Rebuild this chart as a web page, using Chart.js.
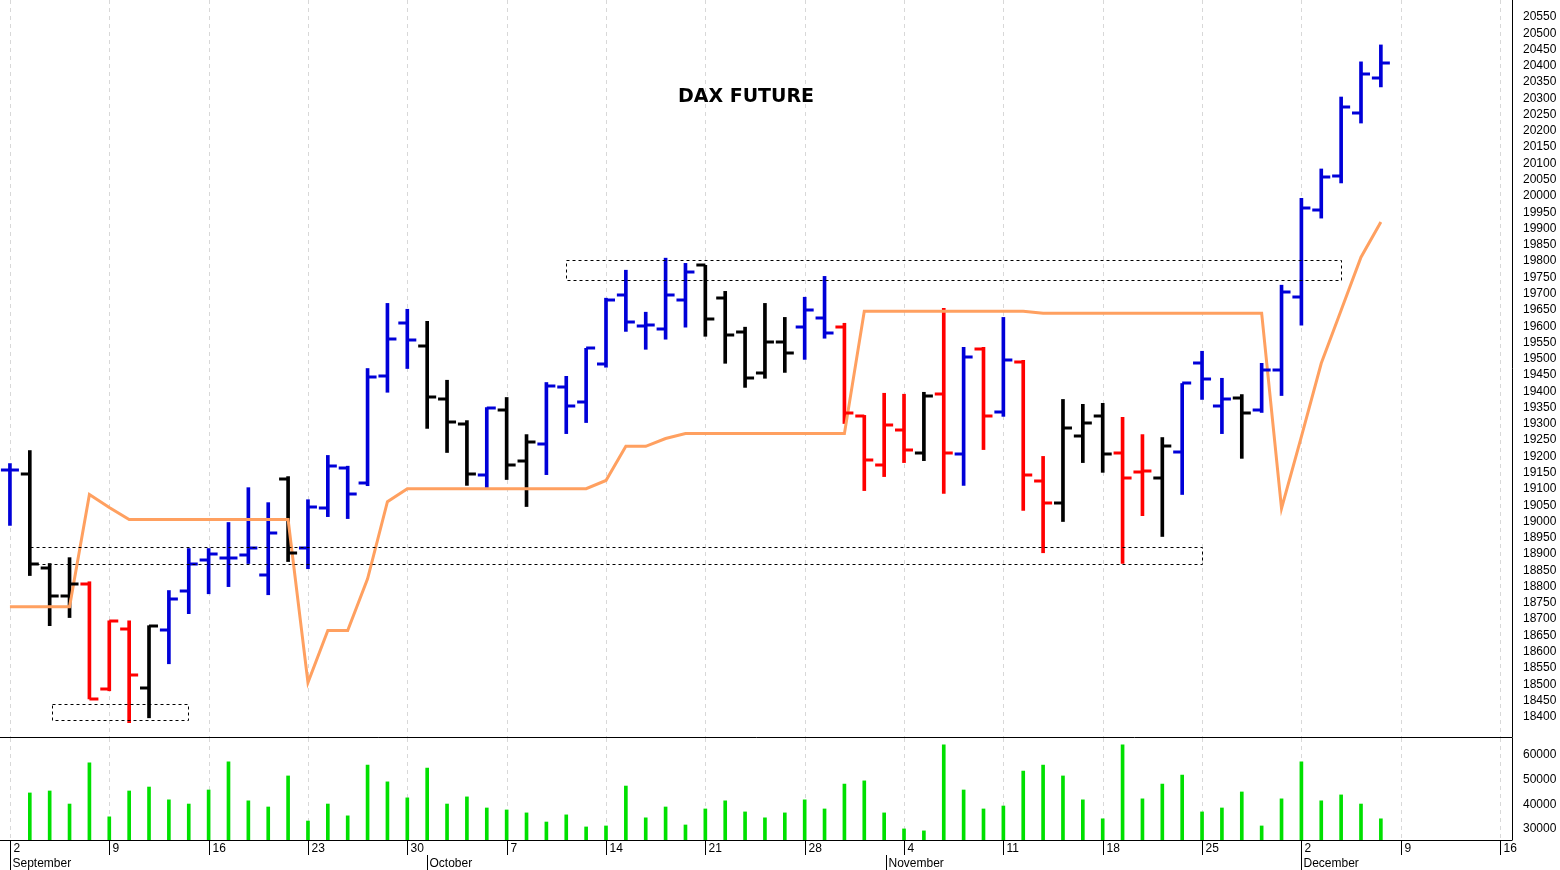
<!DOCTYPE html>
<html>
<head>
<meta charset="utf-8">
<script src="https://cdn.jsdelivr.net/npm/chart.js@4.4.1/dist/chart.umd.min.js"></script>
<style>
  body { margin: 0; background: #fff; width: 1560px; height: 870px; overflow: hidden; position: relative; }
  #wrapPrice { position: absolute; left: 0; top: 0; width: 1560px; height: 738px; }
  #wrapVol { position: absolute; left: 0; top: 738px; width: 1560px; height: 132px; }
</style>
</head>
<body>
<div id="wrapPrice"><canvas id="price"></canvas></div>
<div id="wrapVol"><canvas id="vol"></canvas></div>
<script>
// Daily bars, Sep 2 .. Dec 6 (index 0 = Sep 2)
const opens  = [19157,19147,18858,18772,18809,18486,18671,18489,18668,18788,18883,18889,18898,18837,19132,18920,19040,19163,19117,19446,
                19609,19538,19375,19301,19144,19344,19187,19237,19412,19366,19483,19695,19600,19590,19680,19787,19686,19581,19455,19550,
                19597,19624,19597,19323,19175,19280,19212,19391,19206,19529,19335,19489,19123,19058,19264,19323,19212,19151,19135,19215,
                19486,19354,19378,19344,19464,19689,19956,20061,20255,20362];
const highs  = [19178,19218,18871,18889,18815,18695,18695,18680,18788,18917,18917,18997,19104,19058,19138,19067,19203,19170,19470,19670,
                19652,19615,19434,19310,19350,19381,19267,19427,19446,19532,19686,19772,19643,19809,19793,19787,19707,19597,19670,19627,
                19689,19753,19609,19326,19394,19391,19397,19655,19535,19535,19627,19495,19200,19375,19360,19363,19320,19267,19258,19424,
                19523,19440,19390,19486,19726,19993,20083,20304,20412,20464];
const lows   = [18988,18834,18680,18705,18455,18480,18382,18397,18563,18717,18778,18800,18871,18775,18877,18855,19015,19009,19110,19397,
                19470,19286,19212,19111,19101,19129,19046,19144,19270,19304,19474,19584,19529,19560,19597,19569,19486,19412,19440,19458,
                19498,19563,19301,19095,19138,19181,19187,19086,19111,19221,19323,19034,18904,19000,19181,19151,18871,19018,18954,19083,
                19375,19270,19194,19335,19387,19603,19932,20040,20224,20335];
const closes = [19157,18871,18772,18809,18455,18695,18529,18680,18763,18871,18901,18889,18920,18966,18904,19046,19172,19086,19443,19560,
                19557,19381,19307,19147,19350,19175,19243,19415,19354,19532,19680,19612,19603,19695,19766,19621,19572,19440,19550,19517,
                19649,19578,19332,19190,19298,19221,19387,19212,19504,19323,19495,19144,19058,19286,19304,19206,19135,19154,19231,19424,
                19437,19375,19332,19464,19704,19963,20058,20273,20375,20409];
const barColors = "bkkkrrrkbbbbbbkbbbbbbkkkbkkbbbbbbbbkkkkkbbrrrrkrbrbrrkkkrrkbbbkbbbbbbb";
const trendLine = [18738,18738,18738,18738,19083,19043,19006,19006,19006,19006,19006,19006,19006,19006,19006,18505,18665,18665,18824,19061,
                   19101,19101,19101,19101,19101,19101,19101,19101,19101,19101,19126,19231,19231,19255,19270,19270,19270,19270,19270,19270,
                   19270,19270,19270,19646,19646,19646,19646,19646,19646,19646,19646,19646,19640,19640,19640,19640,19640,19640,19640,19640,
                   19640,19640,19640,19640,19040,19261,19486,19649,19812,19920];
const volumes = [null,44600,45400,40100,56800,34900,45400,47000,41800,40100,45800,57200,41400,38900,51500,33200,40100,35300,55900,49100,
                 42600,54700,40100,43000,38500,37700,36500,32800,35700,30800,31200,47400,34500,38900,31600,38100,41400,36900,34500,36500,
                 41800,38100,48200,49500,36500,30000,29200,64100,45800,38100,39300,53500,55900,51500,41800,34100,64100,42200,48200,51900,
                 36900,38500,45000,31200,42200,57200,41400,43800,40100,34100];
const dayLabels = ["2","9","16","23","30","7","14","21","28","4","11","18","25","2","9","16"];
const months = [["September",0],["October",21],["November",44.1],["December",65]];
// support / resistance boxes: [fromIndex, toIndex, lowPrice, highPrice]
const zones = [[2.1,8.95,18391,18440],[1,60,18868,18923],[28,67,19741,19803]];
const priceTicks = [];
for (let p = 18400; p <= 20550; p += 50) priceTicks.push(p);
const volTicks = [30000, 40000, 50000, 60000];

const colorMap = { b: "#0000d8", k: "#000000", r: "#ff0000" };
const idx = opens.map((_, i) => i);
const X_MIN = -0.5, X_MAX = 75.6;

function weekGrid(chart) {
  const { ctx, chartArea, scales } = chart;
  ctx.save();
  ctx.strokeStyle = "#d8d8d8";
  ctx.setLineDash([4, 4]);
  ctx.lineWidth = 1;
  for (let i = 0; i <= 75; i += 5) {
    const x = Math.round(scales.x.getPixelForValue(i)) + 0.5;
    ctx.beginPath(); ctx.moveTo(x, chartArea.top); ctx.lineTo(x, chartArea.bottom); ctx.stroke();
  }
  ctx.restore();
}

function rightAxis(min, max, ticks) {
  return {
    position: "right",
    min: min, max: max,
    afterFit(s) { s.width = 48; s.paddingTop = 0; s.paddingBottom = 0; },
    afterBuildTicks(s) { s.ticks = ticks.map(v => ({ value: v })); },
    grid: { display: false },
    border: { display: false },
    ticks: {
      color: "#000", font: { size: 12, family: "'Liberation Sans', Arial" }, padding: 3, autoSkip: false,
      callback: v => String(v)
    }
  };
}

const priceDecor = {
  id: "priceDecor",
  beforeDatasetsDraw(chart) { weekGrid(chart); },
  afterDatasetsDraw(chart) {
    const { ctx, scales, chartArea } = chart;
    const xs = scales.x, ys = scales.y;
    ctx.save();
    // open/close ticks
    ctx.lineWidth = 3;
    idx.forEach(i => {
      const x = xs.getPixelForValue(i);
      ctx.strokeStyle = colorMap[barColors[i]];
      const yo = Math.round(ys.getPixelForValue(opens[i]));
      const yc = Math.round(ys.getPixelForValue(closes[i]));
      ctx.beginPath(); ctx.moveTo(x - 9, yo); ctx.lineTo(x, yo); ctx.stroke();
      ctx.beginPath(); ctx.moveTo(x, yc); ctx.lineTo(x + 9, yc); ctx.stroke();
    });
    // zones
    ctx.lineWidth = 1;
    ctx.strokeStyle = "#000";
    ctx.setLineDash([3, 3]);
    zones.forEach(z => {
      const x1 = Math.round(xs.getPixelForValue(z[0])) + 0.5, x2 = Math.round(xs.getPixelForValue(z[1])) + 0.5;
      const y1 = Math.round(ys.getPixelForValue(z[3])) + 0.5, y2 = Math.round(ys.getPixelForValue(z[2])) + 0.5;
      ctx.strokeRect(x1, y1, x2 - x1, y2 - y1);
    });
    ctx.setLineDash([]);
    // frame
    ctx.strokeStyle = "#000";
    ctx.beginPath();
    ctx.moveTo(chartArea.right + 0.5, 0); ctx.lineTo(chartArea.right + 0.5, chartArea.bottom - 0.5);
    ctx.lineTo(0, chartArea.bottom - 0.5);
    ctx.stroke();
    // title
    ctx.fillStyle = "#000";
    ctx.font = "bold 19px 'DejaVu Sans', Arial, sans-serif";
    ctx.textAlign = "center";
    ctx.textBaseline = "middle";
    ctx.fillText("DAX FUTURE", 746, 97);
    ctx.restore();
  }
};

new Chart(document.getElementById("price"), {
  data: {
    datasets: [
      {
        type: "bar",
        data: idx.map(i => ({ x: i, y: [lows[i], highs[i]] })),
        backgroundColor: idx.map(i => colorMap[barColors[i]]),
        barThickness: 3,
        borderWidth: 0,
        order: 2
      },
      {
        type: "line",
        data: idx.map(i => ({ x: i, y: trendLine[i] })),
        borderColor: "#ffa060",
        borderWidth: 3,
        pointRadius: 0,
        tension: 0,
        order: 1
      }
    ]
  },
  options: {
    responsive: true,
    maintainAspectRatio: false,
    animation: false,
    layout: { padding: 0 },
    plugins: { legend: { display: false }, tooltip: { enabled: false } },
    scales: {
      x: { type: "linear", min: X_MIN, max: X_MAX, display: false, offset: false },
      y: rightAxis(18335, 20602, priceTicks)
    }
  },
  plugins: [priceDecor]
});

const volDecor = {
  id: "volDecor",
  beforeDatasetsDraw(chart) { weekGrid(chart); },
  afterDraw(chart) {
    const { ctx, scales, chartArea } = chart;
    const xs = scales.x;
    ctx.save();
    ctx.strokeStyle = "#000";
    ctx.lineWidth = 1;
    ctx.beginPath();
    ctx.moveTo(chartArea.right + 0.5, 0); ctx.lineTo(chartArea.right + 0.5, chartArea.bottom + 0.5);
    ctx.moveTo(0, chartArea.bottom + 0.5); ctx.lineTo(chartArea.right, chartArea.bottom + 0.5);
    ctx.stroke();
    ctx.fillStyle = "#000";
    ctx.font = "12px 'Liberation Sans', Arial, sans-serif";
    ctx.textBaseline = "top";
    const b = chartArea.bottom;
    dayLabels.forEach((t, k) => {
      const x = Math.round(xs.getPixelForValue(k * 5)) + 0.5;
      ctx.beginPath(); ctx.moveTo(x, b); ctx.lineTo(x, b + 15); ctx.stroke();
      ctx.fillText(t, x + 3, b + 3);
    });
    months.forEach(m => {
      const x = Math.round(xs.getPixelForValue(m[1])) + 0.5;
      ctx.beginPath(); ctx.moveTo(x, b + 15); ctx.lineTo(x, b + 30); ctx.stroke();
      ctx.fillText(m[0], x + 2, b + 18);
    });
    ctx.restore();
  }
};

new Chart(document.getElementById("vol"), {
  type: "bar",
  data: {
    datasets: [{
      data: idx.map(i => ({ x: i, y: volumes[i] })),
      backgroundColor: "#00e000",
      barThickness: 3,
      borderWidth: 0
    }]
  },
  options: {
    responsive: true,
    maintainAspectRatio: false,
    animation: false,
    layout: { padding: { bottom: 30 } },
    plugins: { legend: { display: false }, tooltip: { enabled: false } },
    scales: {
      x: { type: "linear", min: X_MIN, max: X_MAX, display: false, offset: false },
      y: rightAxis(25500, 66900, volTicks)
    }
  },
  plugins: [volDecor]
});
</script>
</body>
</html>
